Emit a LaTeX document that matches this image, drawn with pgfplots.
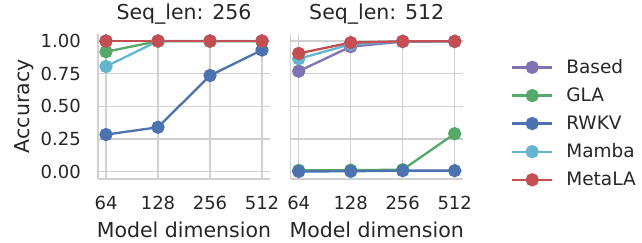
\documentclass[border=0pt]{standalone}
\usepackage{fontspec}
\setmainfont{DejaVu Sans}
\usepackage{pgfplots}
\pgfplotsset{compat=1.18}
\definecolor{cBased}{HTML}{8172B3}
\definecolor{cGLA}{HTML}{55A868}
\definecolor{cRWKV}{HTML}{4C72B0}
\definecolor{cMamba}{HTML}{64B5CD}
\definecolor{cMetaLA}{HTML}{C44E52}
\definecolor{gridc}{HTML}{D0D0D0}
\definecolor{txt}{HTML}{262626}
\pgfplotsset{
  panel/.style={
    scale only axis, width=172pt, height=145.3pt,
    xmin=-0.154, xmax=3.154, ymin=-0.056, ymax=1.056,
    xtick={0,1,2,3}, xticklabels={64,128,256,512},
    ytick={0,0.25,0.5,0.75,1},
    /pgf/number format/assume math mode=true,
    /pgf/number format/fixed, /pgf/number format/fixed zerofill, /pgf/number format/precision=2,
    grid=major, major grid style={gridc, line width=1.3pt},
    axis x line*=bottom, axis y line*=left,
    x axis line style={-, gridc, line width=1.3pt},
    y axis line style={-, gridc, line width=1.3pt},
    tick style={draw=none},
    tick label style={font=\fontsize{18}{20}\selectfont, text=txt},
    xticklabel style={inner sep=0pt, anchor=north, yshift=-17pt},
    yticklabel style={inner sep=0pt, anchor=east, xshift=-17pt},
    label style={font=\fontsize{20.5}{23}\selectfont, text=txt},
    xlabel={Model dimension},
    xlabel style={at={(axis description cs:0.5,0)}, anchor=base, yshift=-58pt, inner sep=0pt},
    title style={font=\fontsize{20.5}{23}\selectfont, text=txt, at={(axis description cs:0.5,1)}, anchor=base, yshift=8.7pt, inner sep=0pt},
    clip=false,
    every axis plot/.append style={line width=2.3pt, mark=*, mark size=5.5pt,
      mark options={draw=white, line width=0.9pt}},
    legend image code/.code={\draw[mark repeat=2,mark phase=2] plot coordinates {(0pt,0pt) (20pt,0pt) (40pt,0pt)};},
  },
}
\begin{document}
\begin{tikzpicture}
\path (0,0) rectangle (642pt,242pt);
\begin{axis}[panel, at={(98pt,63pt)}, anchor=south west,
  title={Seq\_len: 256}, ylabel={Accuracy},
  ylabel style={at={(axis description cs:-0.401,0.5)}, anchor=base, inner sep=0pt}]
\addplot[cBased, mark options={fill=cBased}] coordinates {(0,1.0) (1,1.0) (2,1.0) (3,1.0)};
\addplot[cGLA, mark options={fill=cGLA}] coordinates {(0,0.918) (1,0.999) (2,0.998) (3,0.998)};
\addplot[cRWKV, mark options={fill=cRWKV}] coordinates {(0,0.284) (1,0.34) (2,0.736) (3,0.931)};
\addplot[cMamba, mark options={fill=cMamba}] coordinates {(0,0.805) (1,1.0) (2,1.0) (3,1.0)};
\addplot[cMetaLA, mark options={fill=cMetaLA}] coordinates {(0,1.0) (1,1.0) (2,1.0) (3,1.0)};
\end{axis}
\begin{axis}[panel, at={(290.7pt,63pt)}, anchor=south west,
  title={Seq\_len: 512}, yticklabels={},
  legend style={draw=none, fill=none, at={(axis description cs:1.28,0.837)}, anchor=north west,
    font=\fontsize{18.5}{21}\selectfont, text=txt, row sep=8.85pt, column sep=11pt, inner sep=0pt,
    nodes={inner sep=2pt}},
  legend cell align=left]
\addplot[cBased, mark options={fill=cBased}] coordinates {(0,0.769) (1,0.957) (2,0.995) (3,0.996)};
\addlegendentry{Based}
\addplot[cGLA, mark options={fill=cGLA}] coordinates {(0,0.01) (1,0.012) (2,0.015) (3,0.291)};
\addlegendentry{GLA}
\addplot[cRWKV, mark options={fill=cRWKV}] coordinates {(0,0.002) (1,0.003) (2,0.008) (3,0.008)};
\addlegendentry{RWKV}
\addplot[cMamba, mark options={fill=cMamba}] coordinates {(0,0.864) (1,0.975) (2,0.997) (3,0.998)};
\addlegendentry{Mamba}
\addplot[cMetaLA, mark options={fill=cMetaLA}] coordinates {(0,0.905) (1,0.988) (2,0.998) (3,0.998)};
\addlegendentry{MetaLA}
\end{axis}
\pgfresetboundingbox
\path (0,0) rectangle (642pt,242pt);
\end{tikzpicture}
\end{document}
